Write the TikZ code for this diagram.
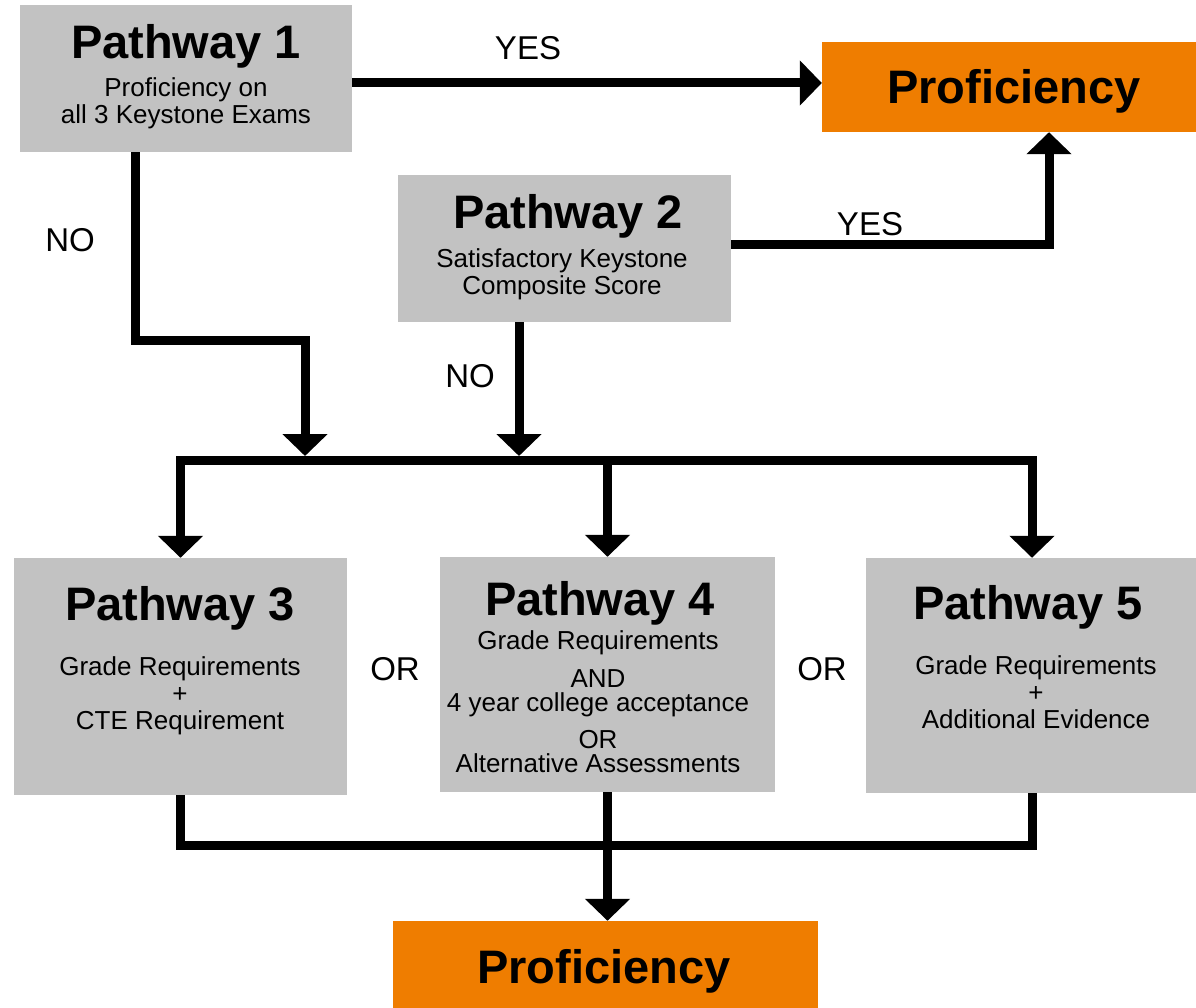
\documentclass[tikz,border=0pt]{standalone}
\usepackage{fontspec}
\setmainfont{Liberation Sans}
\usetikzlibrary{arrows.meta}
\definecolor{pathgray}{HTML}{C2C2C2}
\definecolor{proforange}{HTML}{EF7D00}

\begin{document}
\begin{tikzpicture}[
x=1pt,y=-1pt,
pathbox/.style={fill=pathgray,inner sep=0},
profbox/.style={fill=proforange,inner sep=0},
title/.style={font=\fontsize{47}{50}\selectfont\bfseries,anchor=base,inner sep=0},
sub/.style={font=\fontsize{26}{27}\selectfont,align=center,anchor=north,inner sep=0},
answer/.style={font=\fontsize{33}{36}\selectfont,anchor=base,inner sep=0},
line/.style={line width=9pt},
conn/.style={line width=9pt,-{Triangle[width=44pt,length=22pt]}}
]
\useasboundingbox (0,0) rectangle (1196,1008);

% boxes
\node[pathbox,minimum width=332pt,minimum height=147pt] (p1) at (186,78.5) {};
\node[profbox,minimum width=374pt,minimum height=90pt] (proftop) at (1009,87) {};
\node[pathbox,minimum width=333pt,minimum height=147pt] (p2) at (564.5,248.5) {};
\node[pathbox,minimum width=333pt,minimum height=237pt] (p3) at (180.5,676.5) {};
\node[pathbox,minimum width=335pt,minimum height=235pt] (p4) at (607.5,674.5) {};
\node[pathbox,minimum width=332pt,minimum height=235pt] (p5) at (1032,675.5) {};
\node[profbox,minimum width=425pt,minimum height=87pt] (profbot) at (605.5,964.5) {};

% texts
\node[title] (p1title) at (186,59) {Pathway 1};
\node[sub] (p1text) at (186,77) {Proficiency on\\all 3 Keystone Exams};
\node[title] (proftoptitle) at (1014,104) {Proficiency};
\node[title] (p2title) at (568,229) {Pathway 2};
\node[sub] (p2text) at (562,248) {Satisfactory Keystone\\Composite Score};
\node[title] (p3title) at (180,620) {Pathway 3};
\node[sub] (p3text) at (180,656) {Grade Requirements\\+\\CTE Requirement};
\node[title] (p4title) at (600,615) {Pathway 4};
\node[sub,font=\fontsize{26}{24}\selectfont] (p4text) at (598,630) {Grade Requirements\\[14pt]AND\\4 year college acceptance\\[13pt]OR\\Alternative Assessments};
\node[title] (p5title) at (1028,619) {Pathway 5};
\node[sub] (p5text) at (1036,655) {Grade Requirements\\+\\Additional Evidence};
\node[title] (profbottitle) at (604,983) {Proficiency};

% answers
\node[answer] (yes1) at (528,60) {YES};
\node[answer] (yes2) at (870,236) {YES};
\node[answer] (no1) at (70,252) {NO};
\node[answer] (no2) at (470,387) {NO};
\node[answer] (or1) at (395,680) {OR};
\node[answer] (or2) at (822,680) {OR};

% connectors
\coordinate (bus1) at (305,456);
\coordinate (bus2) at (519,456);
\draw[conn] (p1.east |- 0,83) -- (proftop.west |- 0,83);
\draw[conn] (p2.east |- 0,245) -| ([xshift=40pt]proftop.south);
\draw[conn] ([xshift=-51pt]p1.south) -- ++(0,188) -| (bus1);
\draw[conn] (p2.south -| bus2) -- (bus2);
\draw[line,line cap=rect] (p3.north |- 0,460) -- (p5.north |- 0,460);
\draw[conn] (p3.north |- 0,460) -- (p3.north);
\draw[conn] (p4.north |- 0,460) -- (p4.north);
\draw[conn] (p5.north |- 0,460) -- (p5.north);
\draw[line] (p3.south) -- ++(0,50) -| (p5.south);
\draw[conn] (p4.south) -- (p4.south |- profbot.north);

\end{tikzpicture}
\end{document}
